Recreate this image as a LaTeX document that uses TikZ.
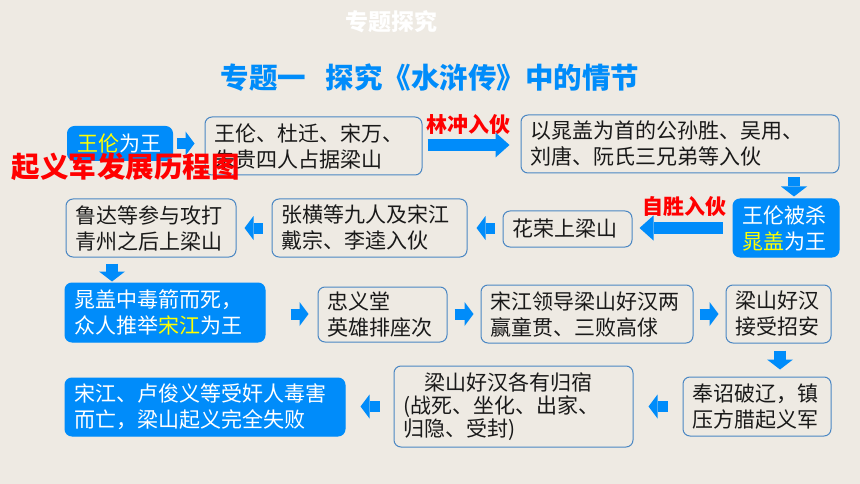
\documentclass[tikz,border=0pt]{standalone}
\usepackage{fontspec}
\setmainfont{Noto Sans CJK SC}
\usetikzlibrary{arrows.meta}
\definecolor{bg}{RGB}{238,234,227}
\definecolor{myblue}{RGB}{0,140,250}
\definecolor{edgeblue}{RGB}{75,135,195}
\definecolor{txt}{RGB}{25,25,25}
\definecolor{hiyellow}{RGB}{255,255,0}
\definecolor{myred}{RGB}{255,0,0}
\begin{document}
\begin{tikzpicture}[x=1pt,y=-1pt,
  box/.style={draw=edgeblue, line width=1pt, rounded corners=7pt, fill=bg, text=txt,
    align=left, inner xsep=9.5pt, inner ysep=0pt, font=\fontsize{21pt}{26pt}\selectfont},
  bluebox/.style={box, draw=myblue, fill=myblue, text=white},
  sarrow/.style={draw=myblue, line width=11pt, -{Triangle[width=24pt,length=9pt,line width=0pt]}},
  darrow/.style={draw=myblue, line width=12pt, -{Triangle[width=26pt,length=10pt,line width=0pt]}},
  barrow/.style={draw=myblue, line width=12pt, -{Triangle[width=25pt,length=14pt,line width=0pt]}},
  redlabel/.style={text=myred, font=\fontsize{21pt}{24pt}\selectfont\bfseries, inner sep=0pt}
]
\fill[bg] (0,0) rectangle (860,484);
\useasboundingbox (0,0) rectangle (860,484);

\node[text=white, font=\fontsize{23pt}{25pt}\selectfont\bfseries, inner sep=0pt] (hdr) at (391,22) {专题探究};
\node[text=myblue, font=\fontsize{28.5pt}{30pt}\selectfont\bfseries, inner sep=0pt] (title) at (430,78) {专题一\hspace{0.7em}探究《水浒传》中的情节};

% row 1
\node[bluebox, text width=86pt, minimum height=34pt] (A) at (120,143.5) {{\color{hiyellow}王伦}为王};
\node[box, text width=198pt, minimum height=58pt] (B) at (313.5,146) {王伦、杜迁、宋万、\\朱贵四人占据梁山};
\node[box, text width=299pt, minimum height=58pt] (C) at (680,144) {以晁盖为首的公孙胜、吴用、\\刘唐、阮氏三兄弟等入伙};

% row 2
\node[bluebox, text width=87pt, minimum height=58pt] (D) at (786,228) {王伦被杀\\{\color{hiyellow}晁盖}为王};
\node[box, text width=110pt, minimum height=36pt] (E) at (567.5,229) {花荣上梁山};
\node[box, text width=176pt, minimum height=58pt] (F) at (369.5,228) {张横等九人及宋江\\戴宗、李逵入伙};
\node[box, text width=151pt, minimum height=58pt] (G) at (151,228) {鲁达等参与攻打\\青州之后上梁山};

% row 3
\node[bluebox, text width=181pt, minimum height=59pt] (H) at (165,312.5) {晁盖中毒箭而死，\\众人推举{\color{hiyellow}宋江}为王};
\node[box, text width=110pt, minimum height=55pt] (I) at (382.5,314.5) {忠义堂\\英雄排座次};
\node[box, text width=193pt, minimum height=58pt] (J) at (587,314) {宋江领导梁山好汉两\\赢童贯、三败高俅};
\node[box, text width=86pt, minimum height=58pt] (K) at (778.5,314) {梁山好汉\\接受招安};

% row 4
\node[box, text width=129pt, minimum height=59pt] (L) at (757,406.5) {奉诏破辽，镇\\压方腊起义军};
\node[box, text width=220pt, minimum height=81pt, font=\fontsize{21pt}{23pt}\selectfont] (M) at (513.5,406.5) {\hspace{1em}梁山好汉各有归宿\\(战死、坐化、出家、\\归隐、受封)};
\node[bluebox, text width=261pt, minimum height=58pt] (N) at (205,407) {宋江、卢俊义等受奸人毒害\\而亡，梁山起义完全失败};

% connectors
\draw[sarrow, shorten <=4pt, shorten >=10pt] (A.east) -- (A.east -| B.west);
\draw[barrow, shorten <=5pt, shorten >=11pt] (B.east |- 0,145) -- (C.west |- 0,145);
\draw[darrow, shorten <=4pt, shorten >=2pt] (C.south -| 794,0) -- (D.north -| 794,0);
\draw[barrow, shorten <=10pt, shorten >=7pt] (D.west) -- (D.west -| E.east);
\draw[sarrow, shorten <=8pt, shorten >=9pt] (E.west |- 0,228) -- (F.east);
\draw[sarrow, shorten <=9pt, shorten >=8pt] (F.west) -- (G.east);
\draw[darrow, shorten <=6pt, shorten >=1pt] (G.south -| 112,0) -- (H.north -| 112,0);
\draw[sarrow, shorten <=25pt, shorten >=9pt] (H.east |- 0,314) -- (I.west |- 0,314);
\draw[sarrow, shorten <=7pt, shorten >=7pt] (I.east |- 0,314) -- (J.west |- 0,314);
\draw[sarrow, shorten <=6pt, shorten >=7pt] (J.east) -- (K.west);
\draw[darrow, shorten <=7pt, shorten >=7pt] (K.south -| 780,0) -- (L.north -| 780,0);
\draw[sarrow, shorten <=15pt, shorten >=15pt] (L.west) -- (L.west -| M.east);
\draw[sarrow, shorten <=14pt, shorten >=15pt] (M.west) -- (M.west -| N.east);

% labels
\node[redlabel] (lin) at (468,125) {林冲入伙};
\node[redlabel] (bai) at (684,207) {自胜入伙};
\node[text=myred, font=\fontsize{28.5pt}{30pt}\selectfont\bfseries, inner sep=0pt] (big) at (126,167) {起义军发展历程图};
\end{tikzpicture}
\end{document}
